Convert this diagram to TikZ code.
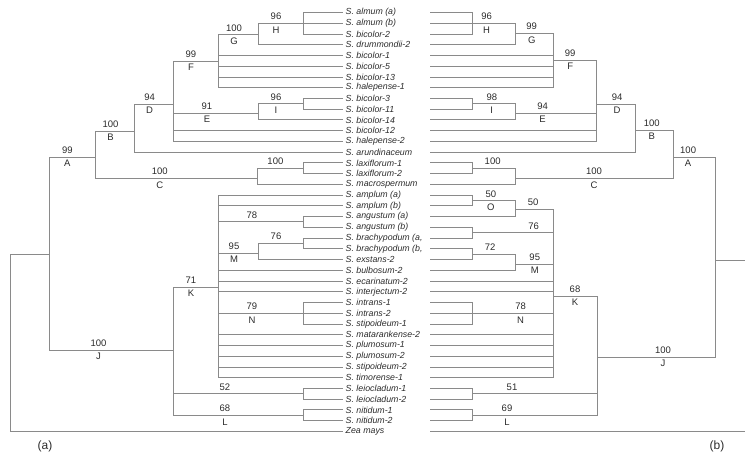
\documentclass[tikz,border=0pt]{standalone}
\usepackage{fontspec}
\setmainfont{Liberation Sans}
\usetikzlibrary{positioning}

\definecolor{branchgray}{HTML}{8A8A8A}
\definecolor{ink}{HTML}{2B2B2B}

\begin{document}
\begin{tikzpicture}[
    x=1pt,
    y=-1pt,
    branch/.style={draw=branchgray, line width=0.8pt},
    taxon/.style={anchor=west, inner sep=0pt, text=ink,
        font=\fontsize{8.8}{9}\selectfont\itshape},
    boot/.style={above=2.5pt, inner sep=0.5pt, pos=#1, text=ink,
        font=\fontsize{9.5}{10}\selectfont},
    boot/.default=0.7,
    clade/.style={below=2.5pt, inner sep=0.5pt, pos=#1, text=ink,
        font=\fontsize{9.5}{10}\selectfont},
    clade/.default=0.7,
    panel/.style={text=ink, font=\fontsize{12}{13}\selectfont},
]

    \useasboundingbox (0,0) rectangle (745,457);

    % left tree
    \coordinate (lRoot) at (10,340);
    \coordinate (lN0)   at (49,254);
    \coordinate (lA)    at (95,157);
    \coordinate (lB)    at (134,131);
    \coordinate (lC)    at (257,178);
    \coordinate (lD)    at (173,104);
    \coordinate (lE)    at (258,113);
    \coordinate (lF)    at (218,61);
    \coordinate (lG)    at (258,34.5);
    \coordinate (lH)    at (303,23.2);
    \coordinate (lI)    at (303,103.8);
    \coordinate (lLax)  at (303,168.2);
    \coordinate (lJ)    at (173,350);
    \coordinate (lK)    at (218,287);
    \coordinate (lAng)  at (303,221.9);
    \coordinate (lM)    at (258,253);
    \coordinate (lBra)  at (303,243.4);
    \coordinate (lN)    at (303,313.2);
    \coordinate (lLei)  at (303,393.8);
    \coordinate (lL)    at (303,415.3);

    % right tree
    \coordinate (rOut)  at (745,260);
    \coordinate (rZea)  at (745,431.36);
    \coordinate (rN0)   at (715,260);
    \coordinate (rA)    at (673,157);
    \coordinate (rB)    at (635,130);
    \coordinate (rC)    at (515,178);
    \coordinate (rD)    at (596,104);
    \coordinate (rE)    at (515,113);
    \coordinate (rF)    at (553,60);
    \coordinate (rG)    at (515,33);
    \coordinate (rH)    at (472,23.2);
    \coordinate (rI)    at (472,103.8);
    \coordinate (rLax)  at (472,168.2);
    \coordinate (rJ)    at (597,357);
    \coordinate (rK)    at (553,296);
    \coordinate (r50)   at (515,209);
    \coordinate (rO)    at (472,200.5);
    \coordinate (r76)   at (472,232.7);
    \coordinate (rM)    at (515,264);
    \coordinate (r72)   at (472,254.2);
    \coordinate (rN)    at (472,313.2);
    \coordinate (rLei)  at (472,393.8);
    \coordinate (rL)    at (472,415.3);

    % taxa, with their branches on both sides
    \foreach \i/\lp/\rp/\name in {
        1/lH/rH/{S. almum (a)},
        2/lH/rH/{S. almum (b)},
        3/lH/rH/{S. bicolor-2},
        4/lG/rG/{S. drummondii-2},
        5/lF/rF/{S. bicolor-1},
        6/lF/rF/{S. bicolor-5},
        7/lF/rF/{S. bicolor-13},
        8/lF/rF/{S. halepense-1},
        9/lI/rI/{S. bicolor-3},
        10/lI/rI/{S. bicolor-11},
        11/lE/rE/{S. bicolor-14},
        12/lD/rD/{S. bicolor-12},
        13/lD/rD/{S. halepense-2},
        14/lB/rB/{S. arundinaceum},
        15/lLax/rLax/{S. laxiflorum-1},
        16/lLax/rLax/{S. laxiflorum-2},
        17/lC/rC/{S. macrospermum},
        18/lK/rO/{S. amplum (a)},
        19/lK/rO/{S. amplum (b)},
        20/lAng/r50/{S. angustum (a)},
        21/lAng/r76/{S. angustum (b)},
        22/lBra/r76/{S. brachypodum (a,},
        23/lBra/r72/{S. brachypodum (b,},
        24/lM/r72/{S. exstans-2},
        25/lK/rM/{S. bulbosum-2},
        26/lK/rK/{S. ecarinatum-2},
        27/lK/rK/{S. interjectum-2},
        28/lN/rN/{S. intrans-1},
        29/lN/rN/{S. intrans-2},
        30/lN/rN/{S. stipoideum-1},
        31/lK/rK/{S. matarankense-2},
        32/lK/rK/{S. plumosum-1},
        33/lK/rK/{S. plumosum-2},
        34/lK/rK/{S. stipoideum-2},
        35/lK/rK/{S. timorense-1},
        36/lLei/rLei/{S. leiocladum-1},
        37/lLei/rLei/{S. leiocladum-2},
        38/lL/rL/{S. nitidum-1},
        39/lL/rL/{S. nitidum-2},
        40/lRoot/rZea/{Zea mays}%
    }{
        \coordinate (L\i) at (343,{12.5+(\i-1)*10.74});
        \coordinate (R\i) at (430,{12.5+(\i-1)*10.74});
        \node[taxon] (t\i) at (345.5,{12.5+(\i-1)*10.74}) {\name};
        \draw[branch] (\lp) |- (L\i);
        \draw[branch] (\rp) |- (R\i);
    }

    % left clades
    \draw[branch] (lRoot) |- (lN0);
    \draw[branch] (lN0) |- node[boot] {99}  node[clade] {A} (lA);
    \draw[branch] (lN0) |- node[boot] {100} node[clade] {J} (lJ);
    \draw[branch] (lA)  |- node[boot] {100} node[clade] {B} (lB);
    \draw[branch] (lA)  |- node[boot] {100} node[clade] {C} (lC);
    \draw[branch] (lB)  |- node[boot] {94}  node[clade] {D} (lD);
    \draw[branch] (lD)  |- node[boot] {99}  node[clade] {F} (lF);
    \draw[branch] (lD)  |- node[boot] {91}  node[clade] {E} (lE);
    \draw[branch] (lF)  |- node[boot] {100} node[clade] {G} (lG);
    \draw[branch] (lG)  |- node[boot] {96}  node[clade] {H} (lH);
    \draw[branch] (lE)  |- node[boot] {96}  node[clade] {I} (lI);
    \draw[branch] (lC)  |- node[boot] {100}                 (lLax);
    \draw[branch] (lJ)  |- node[boot] {71}  node[clade] {K} (lK);
    \draw[branch] (lJ)  |- node[boot] {52}                  (lLei);
    \draw[branch] (lJ)  |- node[boot] {68}  node[clade] {L} (lL);
    \draw[branch] (lK)  |- node[boot] {78}                  (lAng);
    \draw[branch] (lK)  |- node[boot] {95}  node[clade] {M} (lM);
    \draw[branch] (lM)  |- node[boot] {76}                  (lBra);
    \draw[branch] (lK)  |- node[boot] {79}  node[clade] {N} (lN);

    % right clades
    \draw[branch] (rN0) -- (rOut);
    \draw[branch] (rN0) |- node[boot=0.82] {100} node[clade=0.82] {A} (rA);
    \draw[branch] (rN0) |- node[boot=0.72] {100} node[clade=0.72] {J} (rJ);
    \draw[branch] (rA)  |- node[boot=0.78] {100} node[clade=0.78] {B} (rB);
    \draw[branch] (rA)  |- node[boot=0.75] {100} node[clade=0.75] {C} (rC);
    \draw[branch] (rB)  |- node[boot=0.73] {94}  node[clade=0.73] {D} (rD);
    \draw[branch] (rD)  |- node[boot=0.80] {99}  node[clade=0.80] {F} (rF);
    \draw[branch] (rD)  |- node[boot=0.83] {94}  node[clade=0.83] {E} (rE);
    \draw[branch] (rF)  |- node[boot=0.78] {99}  node[clade=0.78] {G} (rG);
    \draw[branch] (rG)  |- node[boot=0.83] {96}  node[clade=0.83] {H} (rH);
    \draw[branch] (rE)  |- node[boot=0.77] {98}  node[clade=0.77] {I} (rI);
    \draw[branch] (rC)  |- node[boot=0.76] {100}                     (rLax);
    \draw[branch] (rJ)  |- node[boot=0.75] {68}  node[clade=0.75] {K} (rK);
    \draw[branch] (rJ)  |- node[boot=0.84] {51}                      (rLei);
    \draw[branch] (rJ)  |- node[boot=0.86] {69}  node[clade=0.86] {L} (rL);
    \draw[branch] (rK)  |- node[boot=0.76] {50}                      (r50);
    \draw[branch] (r50) |- node[boot=0.78] {50}  node[clade=0.78] {O} (rO);
    \draw[branch] (rK)  |- node[boot=0.62] {76}                      (r76);
    \draw[branch] (rK)  |- node[boot=0.74] {95}  node[clade=0.74] {M} (rM);
    \draw[branch] (rM)  |- node[boot=0.79] {72}                      (r72);
    \draw[branch] (rK)  |- node[boot=0.70] {78}  node[clade=0.70] {N} (rN);

    \node[panel] (pa) at (45,446)  {(a)};
    \node[panel] (pb) at (717,446) {(b)};
\end{tikzpicture}
\end{document}
